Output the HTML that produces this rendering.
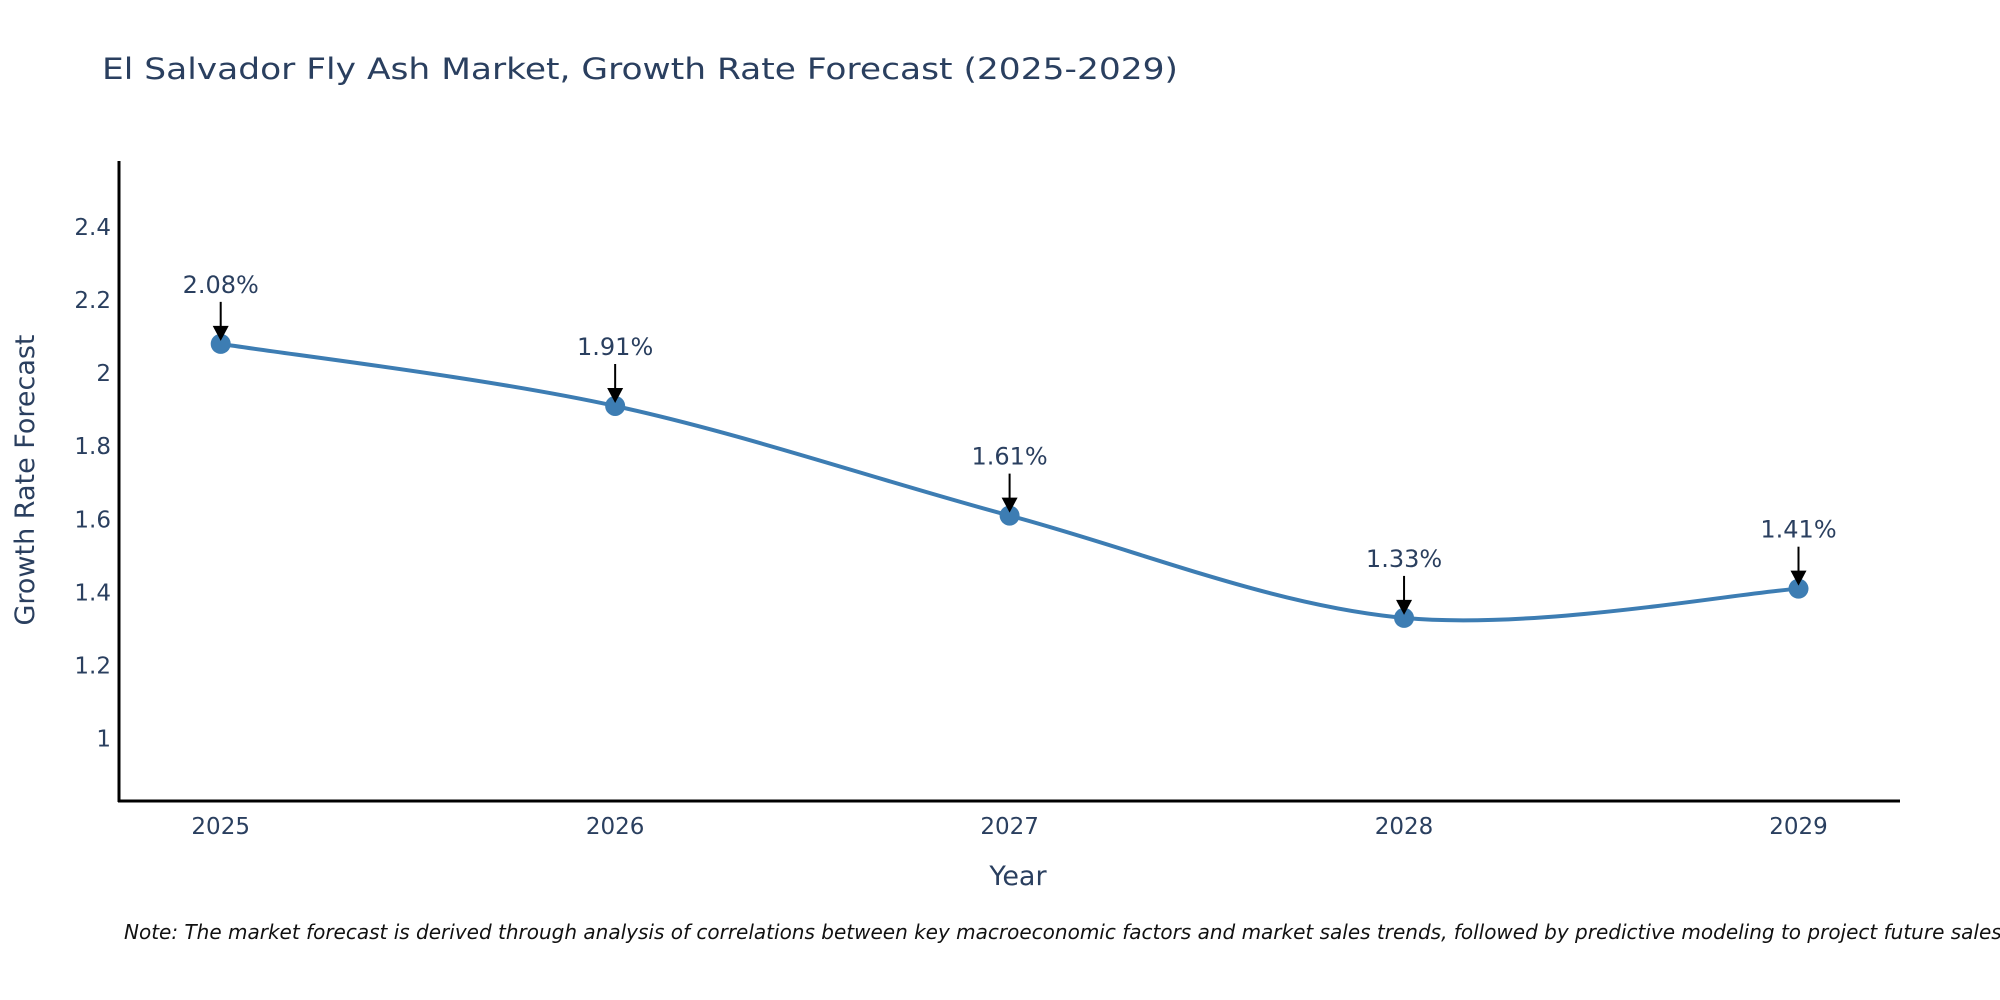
<!DOCTYPE html>
<html><head><meta charset="utf-8">
<style>
html,body{margin:0;padding:0;background:#fff;}
svg{display:block;font-family:"DejaVu Sans","Liberation Sans",sans-serif;}
</style></head>
<body>
<svg id="chart" width="2000" height="1000" viewBox="0 0 2000 1000" xmlns="http://www.w3.org/2000/svg">
<rect width="2000" height="1000" fill="#fff"/>
<text x="102" y="79" font-size="29" fill="#2a3f5f" textLength="1076" lengthAdjust="spacingAndGlyphs">El Salvador Fly Ash Market, Growth Rate Forecast (2025-2029)</text>
<g id="yticks"></g>
<g id="xticks"></g>
<line x1="119" y1="161" x2="119" y2="802" stroke="#000" stroke-width="3"/>
<line x1="118" y1="801" x2="1900" y2="801" stroke="#000" stroke-width="3"/>
<text transform="translate(34,480) rotate(-90)" text-anchor="middle" font-size="27" fill="#2a3f5f">Growth Rate Forecast</text>
<text x="1018" y="885" text-anchor="middle" font-size="27" fill="#2a3f5f">Year</text>
<path id="line" fill="none" stroke="#3d7db3" stroke-width="4"/>
<g id="points"></g>
<g id="annos"></g>
<text x="124" y="939" font-size="20" font-style="italic" fill="#111">Note: The market forecast is derived through analysis of correlations between key macroeconomic factors and market sales trends, followed by predictive modeling to project future sales.</text>
</svg>
<script>
const years = ["2025","2026","2027","2028","2029"];
const values = [2.08, 1.91, 1.61, 1.33, 1.41];
const valueLabels = ["2.08%","1.91%","1.61%","1.33%","1.41%"];
const yTicks = [1, 1.2, 1.4, 1.6, 1.8, 2, 2.2, 2.4];
const yTickLabels = ["1","1.2","1.4","1.6","1.8","2","2.2","2.4"];

const NS = "http://www.w3.org/2000/svg";
function xPos(i){ return 220.7 + i*394.45; }
function yPos(v){ return 738.5 - (v-1)*365.4; }

const yt = document.getElementById('yticks');
yTicks.forEach((t,i)=>{
  const e = document.createElementNS(NS,'text');
  
  
  e.setAttribute('x',111); e.setAttribute('y',yPos(t)+8);
  e.setAttribute('text-anchor','end'); e.setAttribute('font-size','23'); e.setAttribute('fill','#2a3f5f');
  e.textContent = yTickLabels[i]; yt.appendChild(e);
});
const xt = document.getElementById('xticks');
years.forEach((y,i)=>{
  const e = document.createElementNS(NS,'text');
  
  
  e.setAttribute('x',xPos(i)); e.setAttribute('y',834);
  e.setAttribute('text-anchor','middle'); e.setAttribute('font-size','23'); e.setAttribute('fill','#2a3f5f');
  e.textContent = y; xt.appendChild(e);
});

const pts = values.map((v,i)=>[xPos(i), yPos(v)]);
let d = `M${pts[0][0]},${pts[0][1]}`;
for(let i=0;i<pts.length-1;i++){
  const p0=pts[Math.max(i-1,0)], p1=pts[i], p2=pts[i+1], p3=pts[Math.min(i+2,pts.length-1)];
  const t=1/6;
  const c1=[p1[0]+(p2[0]-p0[0])*t, p1[1]+(p2[1]-p0[1])*t];
  const c2=[p2[0]-(p3[0]-p1[0])*t, p2[1]-(p3[1]-p1[1])*t];
  d += ` C${c1[0]},${c1[1]} ${c2[0]},${c2[1]} ${p2[0]},${p2[1]}`;
}
document.getElementById('line').setAttribute('d', d);

const pg = document.getElementById('points');
const ag = document.getElementById('annos');
pts.forEach((p,i)=>{
  const c = document.createElementNS(NS,'circle');
  
  
  c.setAttribute('cx',p[0]); c.setAttribute('cy',p[1]); c.setAttribute('r',10);
  c.setAttribute('fill','#3d7db3');
  pg.appendChild(c);
  const l = document.createElementNS(NS,'line');
  
  
  l.setAttribute('x1',p[0]); l.setAttribute('y1',p[1]-42);
  l.setAttribute('x2',p[0]); l.setAttribute('y2',p[1]-14);
  l.setAttribute('stroke','#000'); l.setAttribute('stroke-width','2');
  ag.appendChild(l);
  const h = document.createElementNS(NS,'polygon');
  
  
  h.setAttribute('points',`${p[0]-8},${p[1]-18} ${p[0]+8},${p[1]-18} ${p[0]},${p[1]-3}`);
  h.setAttribute('fill','#000');
  ag.appendChild(h);
  const t = document.createElementNS(NS,'text');
  
  
  t.setAttribute('x',p[0]); t.setAttribute('y',p[1]-51);
  t.setAttribute('text-anchor','middle'); t.setAttribute('font-size','24'); t.setAttribute('fill','#2a3f5f');
  t.textContent = valueLabels[i];
  ag.appendChild(t);
});
</script>
</body></html>
